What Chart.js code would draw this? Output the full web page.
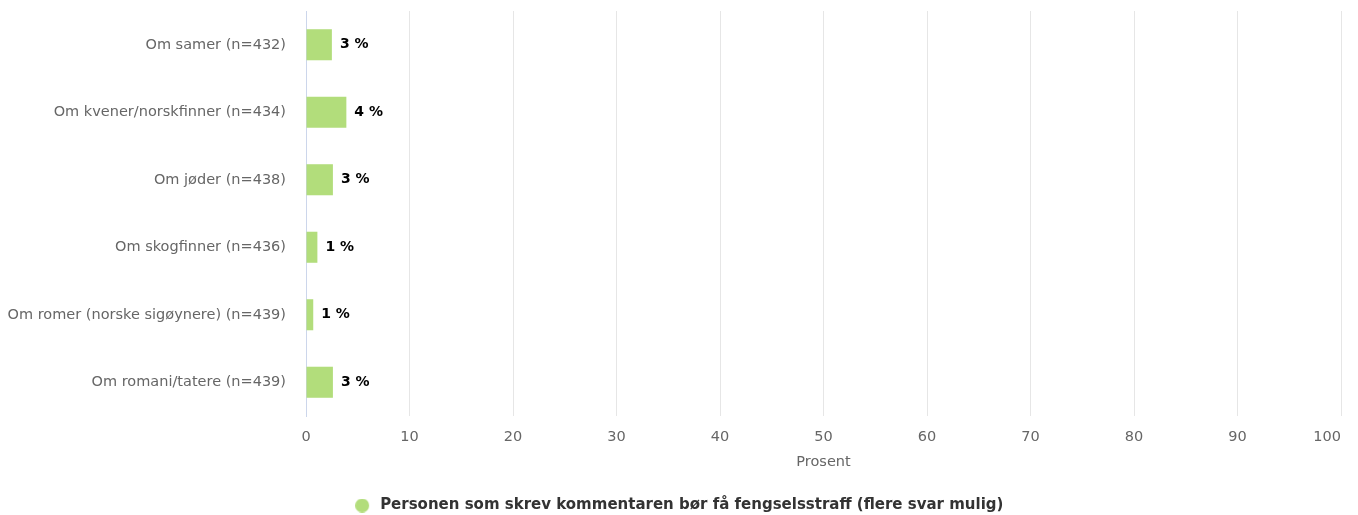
<!DOCTYPE html>
<html>
<head>
<meta charset="utf-8">
<script src="https://cdn.jsdelivr.net/npm/chart.js@4"></script>
<style>
  html, body { margin: 0; padding: 0; background: #fff; }
  #wrap { width: 1358px; height: 515px; }
</style>
</head>
<body>
<div id="wrap"><canvas id="myChart"></canvas></div>
<script>
const categories = [
  'Om samer (n=432)',
  'Om kvener/norskfinner (n=434)',
  'Om jøder (n=438)',
  'Om skogfinner (n=436)',
  'Om romer (norske sigøynere) (n=439)',
  'Om romani/tatere (n=439)'
];
const values = [2.5, 3.9, 2.6, 1.1, 0.7, 2.6];
const seriesName = 'Personen som skrev kommentaren bør få fengselsstraff (flere svar mulig)';
const xTicks = [0, 10, 20, 30, 40, 50, 60, 70, 80, 90, 100];

const fontFamily = '"DejaVu Sans", "Lucida Grande", sans-serif';
const barColor = '#b2dd7b';

// legend marker: a 14px dot drawn a bit left inside a wider image
const dot = document.createElement('canvas');
dot.width = 20;
dot.height = 14;
const dctx = dot.getContext('2d');
dctx.fillStyle = barColor;
dctx.beginPath();
dctx.arc(7, 7, 7, 0, Math.PI * 2);
dctx.fill();

// simple value labels to the right of each bar
const barLabels = {
  id: 'barLabels',
  afterDatasetsDraw(chart) {
    const ctx = chart.ctx;
    const meta = chart.getDatasetMeta(0);
    ctx.save();
    ctx.font = 'bold 14px ' + fontFamily;
    ctx.fillStyle = '#000';
    ctx.textAlign = 'left';
    ctx.textBaseline = 'middle';
    meta.data.forEach((bar, i) => {
      ctx.fillText(Math.round(values[i]) + ' %', bar.x + 8, bar.y);
    });
    ctx.restore();
  }
};

// fixed legend height so it sits near the bottom edge, nudged a little right
const legendHeight = {
  id: 'legendHeight',
  beforeInit(chart) {
    const legend = chart.legend;
    const origFit = legend.fit;
    legend.fit = function () {
      origFit.call(this);
      this.height = 44;
      this.lineWidths = this.lineWidths.map(w => w - 12);
    };
  }
};

var ctx = document.getElementById('myChart').getContext('2d');
var myChart = new Chart(ctx, {
  type: 'bar',
  data: {
    labels: categories,
    datasets: [{
      label: seriesName,
      data: values,
      backgroundColor: barColor,
      borderWidth: 0,
      barPercentage: 0.92,
      categoryPercentage: 0.5
    }]
  },
  options: {
    indexAxis: 'y',
    responsive: true,
    maintainAspectRatio: false,
    animation: false,
    layout: {
      padding: { top: 11, right: 17, left: 8, bottom: 0 }
    },
    scales: {
      x: {
        min: 0,
        max: 100,
        afterBuildTicks(axis) {
          axis.ticks = xTicks.map(v => ({ value: v }));
        },
        afterFit(axis) {
          axis.height = 55;
          axis.paddingLeft = 0;
          axis.paddingRight = 0;
        },
        grid: { color: '#e6e6e6', drawTicks: false },
        border: { display: false },
        ticks: {
          padding: 13,
          color: '#666',
          font: { family: fontFamily, size: 14.5 },
          // last label sits left of its grid line, like the original
          callback: (v) => v === 100 ? '100      ' : String(v)
        },
        title: {
          display: true,
          text: 'Prosent',
          color: '#666',
          font: { family: fontFamily, size: 14.5 },
          padding: { top: 0, bottom: 0 }
        }
      },
      y: {
        afterFit(axis) {
          axis.width = 298;
          axis.paddingTop = 0;
          axis.paddingBottom = 0;
        },
        grid: { display: false, drawTicks: false },
        border: { display: true, color: '#ccd6eb', width: 1 },
        ticks: {
          padding: 20,
          color: '#666',
          font: { family: fontFamily, size: 14.5 }
        }
      }
    },
    plugins: {
      legend: {
        position: 'bottom',
        labels: {
          usePointStyle: true,
          pointStyle: dot,
          boxWidth: 15,
          boxHeight: 15,
          padding: 27,
          color: '#333',
          font: { family: fontFamily, size: 15, weight: 'bold' }
        }
      },
      tooltip: { enabled: false }
    }
  },
  plugins: [barLabels, legendHeight]
});
</script>
</body>
</html>
